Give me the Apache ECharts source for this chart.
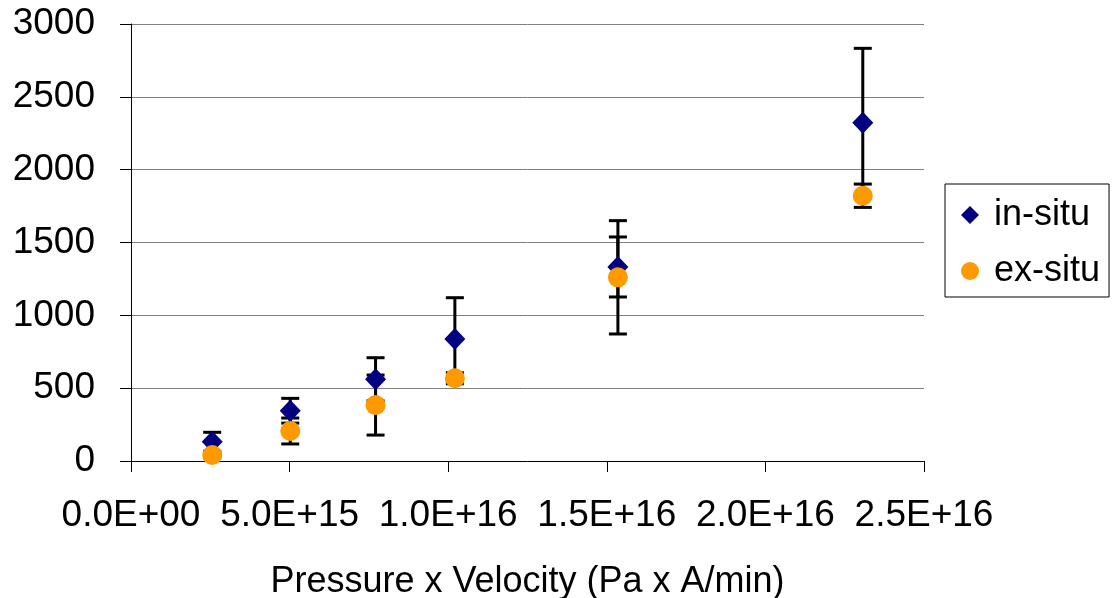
<!DOCTYPE html>
<html><head><meta charset="utf-8">
<script src="https://cdn.jsdelivr.net/npm/echarts@6/dist/echarts.min.js"></script>
<style>html,body{margin:0;padding:0;background:#fff}#c{width:1113px;height:598px}</style>
</head><body><div id="c"></div>
<script>
const xValues = [2.56e15, 5.02e15, 7.71e15, 1.021e16, 1.535e16, 2.307e16];
const inSitu = [132, 345, 561, 837, 1332, 2322];
const inSituErr = [65, 85, 148, 284, 206, 511];
const exSitu = [41, 206, 384, 568, 1261, 1821];
const exSituErr = [20, 89, 206, 38, 389, 80];
const xTickLabels = ['0.0E+00', '5.0E+15', '1.0E+16', '1.5E+16', '2.0E+16', '2.5E+16'];
const yTickLabels = ['0', '500', '1000', '1500', '2000', '2500', '3000'];
const seriesNames = ['in-situ', 'ex-situ'];
const xTitle = 'Pressure x Velocity (Pa x A/min)';

const FONT = "'Liberation Sans', Arial, sans-serif";
const chart = echarts.init(document.getElementById('c'), null, {renderer: 'canvas'});

function errItem(params, api) {
  const x = api.value(0), lo = api.value(1), hi = api.value(2);
  const p1 = api.coord([x, hi]), p2 = api.coord([x, lo]);
  const hw = 9;
  const style = {stroke: '#000', lineWidth: 3};
  return {type: 'group', children: [
    {type: 'line', shape: {x1: p1[0], y1: p1[1], x2: p2[0], y2: p2[1]}, style: style},
    {type: 'line', shape: {x1: p1[0] - hw, y1: p1[1], x2: p1[0] + hw, y2: p1[1]}, style: style},
    {type: 'line', shape: {x1: p2[0] - hw, y1: p2[1], x2: p2[0] + hw, y2: p2[1]}, style: style}
  ]};
}

const inErrData = xValues.map((x, i) => [x, inSitu[i] - inSituErr[i], inSitu[i] + inSituErr[i]]);
const exErrData = xValues.map((x, i) => [x, exSitu[i] - exSituErr[i], exSitu[i] + exSituErr[i]]);

chart.setOption({
  animation: false,
  backgroundColor: '#fff',
  textStyle: {fontFamily: FONT},
  grid: {left: 131, right: 189, top: 24, bottom: 137, containLabel: false, outerBoundsMode: 'none'},
  legend: {
    orient: 'vertical', left: 945, top: 184,
    data: [{name: seriesNames[0], icon: 'diamond'}, {name: seriesNames[1], icon: 'circle'}],
    itemWidth: 18, itemHeight: 18, itemGap: 20,
    padding: [13, 9, 8, 16],
    borderColor: '#000', borderWidth: 1,
    textStyle: {fontSize: 36, color: '#000', fontFamily: FONT, padding: [0, 0, 0, 10]}
  },
  xAxis: {
    type: 'value', min: 0, max: 2.5e16, interval: 5e15,
    name: xTitle, nameLocation: 'middle', nameGap: 103,
    nameTextStyle: {fontSize: 36, color: '#000', fontFamily: FONT},
    axisLine: {show: true, lineStyle: {color: '#000', width: 1}},
    axisTick: {show: true, length: 11, lineStyle: {color: '#000'}},
    splitLine: {show: false},
    axisLabel: {fontSize: 37, color: '#000', margin: 36, fontFamily: FONT,
      formatter: function (v) { return xTickLabels[Math.round(v / 5e15)]; }}
  },
  yAxis: {
    type: 'value', min: 0, max: 3000, interval: 500,
    axisLine: {show: true, lineStyle: {color: '#000', width: 1}},
    axisTick: {show: true, length: 11, lineStyle: {color: '#000'}},
    splitLine: {show: true, lineStyle: {color: '#808080', width: 1}},
    axisLabel: {fontSize: 37, color: '#000', margin: 36, fontFamily: FONT,
      formatter: function (v) { return yTickLabels[Math.round(v / 500)]; }}
  },
  series: [
    {type: 'custom', name: 'errIn', renderItem: errItem, data: inErrData, encode: {x: 0, y: [1, 2]}, z: 1, silent: true},
    {type: 'custom', name: 'errEx', renderItem: errItem, data: exErrData, encode: {x: 0, y: [1, 2]}, z: 1, silent: true},
    {type: 'scatter', name: seriesNames[0], symbol: 'diamond', symbolSize: [21, 22],
      itemStyle: {color: '#000080', opacity: 1}, data: xValues.map((x, i) => [x, inSitu[i]]), z: 3},
    {type: 'scatter', name: seriesNames[1], symbol: 'circle', symbolSize: 20,
      itemStyle: {color: '#FF9900', opacity: 1}, data: xValues.map((x, i) => [x, exSitu[i]]), z: 4}
  ]
});
</script>
</body></html>
